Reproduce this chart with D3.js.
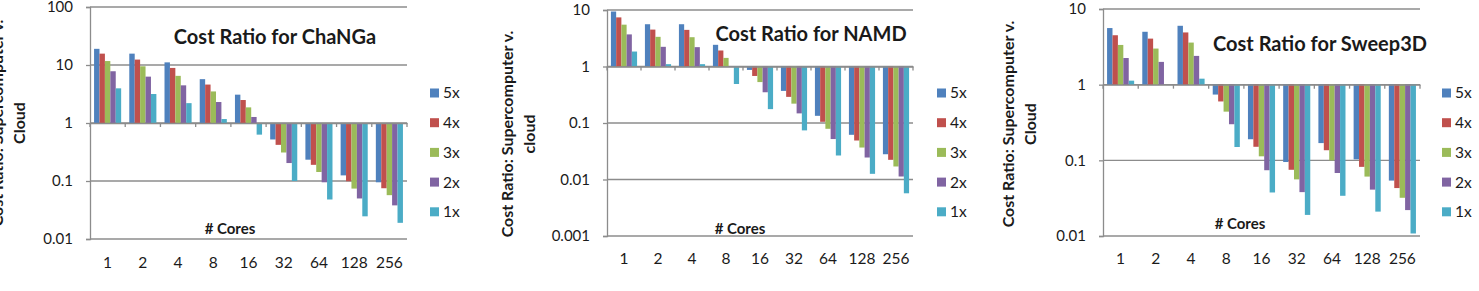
<!DOCTYPE html>
<html>
<head>
<meta charset="utf-8">
<script src="https://cdn.jsdelivr.net/npm/d3@7"></script>
<style>
  body { margin: 0; background: #fff; }
  text { font-family: Lato, "Open Sans", sans-serif; fill: #1a1a1a; }
</style>
</head>
<body>
<div id="charts"></div>
<script>
// Define data

var cores = ["1", "2", "4", "8", "16", "32", "64", "128", "256"];
var seriesNames = ["5x", "4x", "3x", "2x", "1x"];
var colors = ["#4F81BD", "#C0504D", "#9BBB59", "#8064A2", "#4BACC6"];

var changa5x = [19, 15.7, 11.1, 5.7, 3.08, 0.52, 0.233, 0.125, 0.095];
var changa4x = [15.7, 12.4, 8.9, 4.6, 2.49, 0.42, 0.19, 0.099, 0.075];
var changa3x = [11.7, 9.5, 6.5, 3.5, 1.86, 0.31, 0.143, 0.074, 0.057];
var changa2x = [7.8, 6.3, 4.46, 2.3, 1.27, 0.204, 0.095, 0.05, 0.038];
var changa1x = [3.96, 3.16, 2.2, 1.17, 0.63, 0.1, 0.048, 0.0246, 0.019];

var namd5x = [9.4, 5.6, 5.6, 2.42, 0.87, 0.37, 0.134, 0.0618, 0.028];
var namd4x = [7.4, 4.5, 4.45, 1.92, 0.68, 0.29, 0.105, 0.049, 0.0223];
var namd3x = [5.5, 3.35, 3.3, 1.42, 0.53, 0.22, 0.079, 0.0368, 0.017];
var namd2x = [3.7, 2.23, 2.2, 0.99, 0.35, 0.148, 0.052, 0.0245, 0.0113];
var namd1x = [1.84, 1.1, 1.1, 0.49, 0.176, 0.074, 0.0266, 0.0126, 0.0057];

var sweep5x = [5.6, 5.0, 6.0, 0.74, 0.19, 0.095, 0.169, 0.103, 0.054];
var sweep4x = [4.5, 4.06, 4.9, 0.6, 0.151, 0.075, 0.136, 0.082, 0.043];
var sweep3x = [3.35, 3.0, 3.6, 0.44, 0.113, 0.056, 0.1, 0.061, 0.032];
var sweep2x = [2.25, 2.0, 2.4, 0.3, 0.074, 0.038, 0.068, 0.041, 0.022];
var sweep1x = [1.13, 1.0, 1.2, 0.15, 0.0376, 0.019, 0.034, 0.021, 0.0108];

var changaTicks = ["100", "10", "1", "0.1", "0.01"];
var namdTicks = ["10", "1", "0.1", "0.01", "0.001"];
var sweepTicks = ["10", "1", "0.1", "0.01"];

var width = 1479, height = 291;

// panel layout (pixels)
var panels = [
  {title: "Cost Ratio for ChaNGa", ylabel: ["Cost Ratio: Supercomputer v.", "Cloud"],
   series: [changa5x, changa4x, changa3x, changa2x, changa1x], ticks: changaTicks,
   left: 90, right: 407, top: 7, bottom: 239, titleX: 275, titleY: 37,
   coresX: 230, coresY: 229, labX: [-3, 19], labY: 123, legX: 430, xlabY: 263},
  {title: "Cost Ratio for NAMD", ylabel: ["Cost Ratio: Supercomputer v.", "cloud"],
   series: [namd5x, namd4x, namd3x, namd2x, namd1x], ticks: namdTicks,
   left: 607, right: 913, top: 10, bottom: 236, titleX: 811, titleY: 34,
   coresX: 740, coresY: 229, labX: [507, 529], labY: 134, legX: 937, xlabY: 259},
  {title: "Cost Ratio for Sweep3D", ylabel: ["Cost Ratio: Supercomputer v.", "Cloud"],
   series: [sweep5x, sweep4x, sweep3x, sweep2x, sweep1x], ticks: sweepTicks,
   left: 1103, right: 1420, top: 9, bottom: 236, titleX: 1320, titleY: 44,
   coresX: 1240, coresY: 224, labX: [1008, 1030], labY: 124, legX: 1442, xlabY: 259}
];

var svg = d3.select("#charts")
    .append("svg")
    .attr("width", width)
    .attr("height", height);

svg.append("rect")
    .attr("width", width)
    .attr("height", height)
    .attr("fill", "#fff");

var gridColor = "#8c8c8c";

panels.forEach(function(p) {
  var g = svg.append("g");
  var tickVals = p.ticks.map(Number);

  // Define scales

  var yScale = d3.scaleLog()
      .domain([d3.min(tickVals), d3.max(tickVals)])
      .range([p.bottom, p.top]);

  var xScale = d3.scaleBand()
      .domain(cores)
      .range([p.left, p.right])
      .paddingInner(1.5 / 6.5)
      .paddingOuter(0.75 / 6.5);

  var xSub = d3.scaleBand()
      .domain(seriesNames)
      .range([0, xScale.bandwidth()]);

  var step = xScale.step();
  var y1 = yScale(1);

  // Gridlines + y axis

  var yAxis = g.append("g")
      .attr("transform", `translate(${p.left}, 0)`)
      .call(d3.axisLeft(yScale)
        .tickValues(tickVals)
        .tickFormat(function(d, i) { return p.ticks[i]; })
        .tickSize(4)
        .tickPadding(13));
  yAxis.select(".domain").attr("stroke", gridColor).attr("stroke-width", 1.3);
  yAxis.selectAll(".tick line").attr("stroke", gridColor).attr("stroke-width", 1.3);
  yAxis.selectAll(".tick text")
      .style("font-size", "15px")
      .attr("fill", "#1a1a1a");

  g.selectAll(".grid")
      .data(tickVals)
      .enter().append("line")
      .attr("x1", p.left)
      .attr("x2", p.right)
      .attr("y1", function(d) { return yScale(d); })
      .attr("y2", function(d) { return yScale(d); })
      .attr("stroke", gridColor)
      .attr("stroke-width", 1.3);

  // Draw data

  seriesNames.forEach(function(name, si) {
    g.selectAll(".bar" + si)
        .data(p.series[si])
        .enter().append("rect")
        .attr("x", function(d, i) { return xScale(cores[i]) + xSub(name); })
        .attr("width", xSub.bandwidth())
        .attr("y", function(d) { return Math.min(yScale(d), y1); })
        .attr("height", function(d) { return Math.abs(yScale(d) - y1); })
        .attr("fill", colors[si]);
  });

  // category axis crossing at 1

  var xAxis = g.append("g")
      .attr("transform", `translate(0, ${y1})`)
      .call(d3.axisBottom(xScale).tickSize(0).tickFormat(""));
  xAxis.select(".domain").attr("stroke", gridColor).attr("stroke-width", 1.3);

  g.selectAll(".ctick")
      .data(d3.range(cores.length + 1))
      .enter().append("line")
      .attr("x1", function(i) { return p.left + i * step; })
      .attr("x2", function(i) { return p.left + i * step; })
      .attr("y1", y1)
      .attr("y2", y1 + 4)
      .attr("stroke", gridColor)
      .attr("stroke-width", 1.3);

  g.selectAll(".xlab")
      .data(cores)
      .enter().append("text")
      .attr("x", function(d) { return xScale(d) + xScale.bandwidth() / 2; })
      .attr("y", p.xlabY)
      .attr("dy", "0.35em")
      .attr("text-anchor", "middle")
      .style("font-size", "15.5px")
      .text(function(d) { return d; });

  // Draw labels

  g.append("text")
      .attr("x", p.titleX)
      .attr("y", p.titleY)
      .attr("dy", "0.35em")
      .attr("text-anchor", "middle")
      .style("font-size", "20px")
      .style("font-weight", "bold")
      .text(p.title);

  g.append("text")
      .attr("x", p.coresX)
      .attr("y", p.coresY)
      .attr("dy", "0.35em")
      .attr("text-anchor", "middle")
      .style("font-size", "15px")
      .style("font-weight", "bold")
      .text("# Cores");

  p.ylabel.forEach(function(line, li) {
    g.append("text")
        .attr("transform", `translate(${p.labX[li]}, ${p.labY}) rotate(-90)`)
        .attr("dy", "0.35em")
        .attr("text-anchor", "middle")
        .style("font-size", "16px")
        .style("font-weight", "bold")
        .text(line);
  });

  // Legend

  var legend = g.selectAll(".legend")
      .data(seriesNames)
      .enter().append("g")
      .attr("transform", function(d, i) { return `translate(${p.legX}, ${93 + i * 29.7})`; });

  legend.append("rect")
      .attr("x", 0)
      .attr("y", -4.5)
      .attr("width", 9)
      .attr("height", 9)
      .attr("fill", function(d, i) { return colors[i]; });

  legend.append("text")
      .attr("x", 13)
      .attr("dy", "0.35em")
      .style("font-size", "15.5px")
      .text(function(d) { return d; });
});
</script>
</body>
</html>
